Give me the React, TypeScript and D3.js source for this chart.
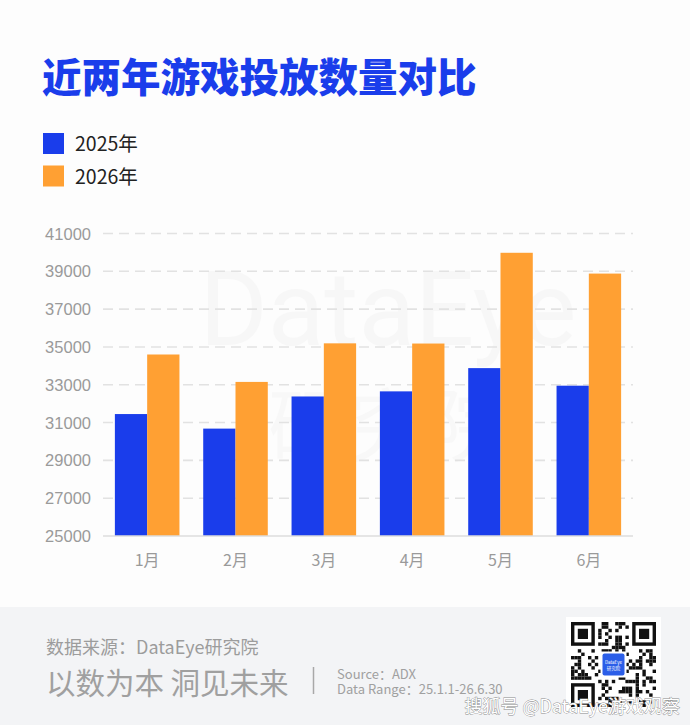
import React, { useEffect, useRef } from 'react';
import * as d3 from 'd3';

const months = ['1月', '2月', '3月', '4月', '5月', '6月'];
const series = ['2025年', '2026年'];
const values2025 = [31450, 30680, 32380, 32650, 33880, 32950];
const values2026 = [34600, 33150, 35190, 35180, 39980, 38880];
const yTicks = [25000, 27000, 29000, 31000, 33000, 35000, 37000, 39000, 41000];
const colors = ['#1a3deb', '#ffa033'];

const W = 690;
const H = 725;
const font = '"Noto Sans CJK SC", "Noto Sans", sans-serif';

const App: React.FC = () => {
  const svgRef = useRef<SVGSVGElement>(null);

  useEffect(() => {
    if (!svgRef.current) return;
    const svg = d3.select(svgRef.current);
    svg.selectAll('*').remove();

    // background
    svg.append('rect').attr('width', W).attr('height', H).attr('fill', '#fdfdfd');

    // faint watermark
    svg.append('text')
      .attr('x', 388).attr('y', 345)
      .attr('text-anchor', 'middle')
      .attr('font-family', 'Roboto, sans-serif')
      .attr('font-size', 104)
      .attr('fill', '#000').attr('opacity', 0.02)
      .text('DataEye');
    svg.append('text')
      .attr('x', 388).attr('y', 455)
      .attr('text-anchor', 'middle')
      .attr('font-family', font)
      .attr('font-size', 80)
      .attr('fill', '#000').attr('opacity', 0.015)
      .text('研究院');

    // title
    svg.append('text')
      .attr('x', 42).attr('y', 92)
      .attr('font-family', font)
      .attr('font-weight', 900)
      .attr('font-size', 39.5)
      .attr('fill', '#1a3deb')
      .text('近两年游戏投放数量对比');

    // legend
    const legend = svg.append('g');
    series.forEach((s, i) => {
      const y = 133 + i * 32.5;
      legend.append('rect')
        .attr('x', 43).attr('y', y).attr('width', 21).attr('height', 21)
        .attr('fill', colors[i]);
      legend.append('text')
        .attr('x', 75).attr('y', y + 18)
        .attr('font-family', font)
        .attr('font-size', 19.5)
        .attr('fill', '#222')
        .text(s);
    });

    // chart
    const x0 = d3.scaleBand<string>()
      .domain(months)
      .range([103, 633])
      .paddingInner(0.269)
      .paddingOuter(0.1345);
    const x1 = d3.scaleBand<string>()
      .domain(series)
      .range([0, x0.bandwidth()]);
    const y = d3.scaleLinear().domain([25000, 41000]).range([536, 233.5]);

    const grid = svg.append('g');
    yTicks.forEach(t => {
      if (t !== 25000) {
        grid.append('line')
          .attr('x1', 103).attr('x2', 633)
          .attr('y1', y(t)).attr('y2', y(t))
          .attr('stroke', '#e2e2e2')
          .attr('stroke-width', 1.6)
          .attr('stroke-dasharray', '10,6');
      }
      grid.append('text')
        .attr('x', 91).attr('y', y(t) + 6)
        .attr('text-anchor', 'end')
        .attr('font-family', '"Liberation Sans", Arial, sans-serif')
        .attr('font-size', 16.5)
        .attr('fill', '#9a9a9a')
        .text(t);
    });

    const data = months.map((m, i) => ({ month: m, vals: [values2025[i], values2026[i]] }));
    const groups = svg.append('g')
      .selectAll('g')
      .data(data)
      .join('g')
      .attr('transform', d => `translate(${x0(d.month)},0)`);
    groups.selectAll('rect')
      .data(d => d.vals.map((v, i) => ({ key: series[i], v, i })))
      .join('rect')
      .attr('x', d => x1(d.key) as number)
      .attr('width', x1.bandwidth())
      .attr('y', d => y(d.v))
      .attr('height', d => y(25000) - y(d.v))
      .attr('fill', d => colors[d.i]);

    // baseline
    svg.append('line')
      .attr('x1', 103).attr('x2', 633)
      .attr('y1', y(25000)).attr('y2', y(25000))
      .attr('stroke', '#dcdcdc').attr('stroke-width', 1.5);

    // x labels
    months.forEach(m => {
      svg.append('text')
        .attr('x', (x0(m) as number) + x0.bandwidth() / 2)
        .attr('y', 566)
        .attr('text-anchor', 'middle')
        .attr('font-family', font)
        .attr('font-size', 16)
        .attr('fill', '#9a9a9a')
        .text(m);
    });

    // footer
    svg.append('rect').attr('x', 0).attr('y', 607).attr('width', W).attr('height', H - 607)
      .attr('fill', '#f3f4f6');
    svg.append('text')
      .attr('x', 46).attr('y', 654)
      .attr('font-family', font).attr('font-size', 18)
      .attr('fill', '#9c9c9c')
      .text('数据来源：DataEye研究院');
    svg.append('text')
      .attr('x', 46).attr('y', 694)
      .attr('font-family', font).attr('font-size', 29.5)
      .attr('fill', '#a0a0a0')
      .text('以数为本 洞见未来');
    svg.append('line')
      .attr('x1', 313.5).attr('x2', 313.5).attr('y1', 667).attr('y2', 694)
      .attr('stroke', '#a8a8a8').attr('stroke-width', 1.5);
    svg.append('text')
      .attr('x', 337).attr('y', 679)
      .attr('font-family', font).attr('font-size', 13)
      .attr('fill', '#a0a0a0')
      .text('Source：ADX');
    svg.append('text')
      .attr('x', 337).attr('y', 694)
      .attr('font-family', font).attr('font-size', 13)
      .attr('fill', '#a0a0a0')
      .text('Data Range：25.1.1-26.6.30');

    // QR code (decorative)
    const qx = 566, qy = 617, qs = 95, n = 25, cell = 3.4;
    const qr = svg.append('g');
    qr.append('rect').attr('x', qx).attr('y', qy).attr('width', qs).attr('height', qs).attr('fill', '#fff');
    const ox = qx + (qs - n * cell) / 2, oy = qy + (qs - n * cell) / 2;
    const inFinder = (r: number, c: number) =>
      (r < 8 && c < 8) || (r < 8 && c >= n - 8) || (r >= n - 8 && c < 8);
    for (let r = 0; r < n; r++) {
      for (let c = 0; c < n; c++) {
        if (inFinder(r, c)) continue;
        const h = ((r * 31 + c * 17 + r * c * 7) ^ (r * 5 + c * 3)) % 5;
        if (h < 2) {
          qr.append('rect')
            .attr('x', ox + c * cell).attr('y', oy + r * cell)
            .attr('width', cell).attr('height', cell).attr('fill', '#111');
        }
      }
    }
    [[0, 0], [0, n - 7], [n - 7, 0]].forEach(([r, c]) => {
      qr.append('rect').attr('x', ox + c * cell).attr('y', oy + r * cell)
        .attr('width', 7 * cell).attr('height', 7 * cell).attr('fill', '#111');
      qr.append('rect').attr('x', ox + (c + 1) * cell).attr('y', oy + (r + 1) * cell)
        .attr('width', 5 * cell).attr('height', 5 * cell).attr('fill', '#fff');
      qr.append('rect').attr('x', ox + (c + 2) * cell).attr('y', oy + (r + 2) * cell)
        .attr('width', 3 * cell).attr('height', 3 * cell).attr('fill', '#111');
    });
    qr.append('rect').attr('x', qx + qs / 2 - 13).attr('y', qy + qs / 2 - 13)
      .attr('width', 26).attr('height', 26).attr('fill', '#fff');
    qr.append('rect').attr('x', qx + qs / 2 - 11).attr('y', qy + qs / 2 - 11)
      .attr('width', 22).attr('height', 22).attr('rx', 2).attr('fill', '#2b5ee8');
    qr.append('text').attr('x', qx + qs / 2).attr('y', qy + qs / 2 - 1)
      .attr('text-anchor', 'middle').attr('font-family', font).attr('font-size', 4.5)
      .attr('fill', '#fff').text('DataEye');
    qr.append('text').attr('x', qx + qs / 2).attr('y', qy + qs / 2 + 5)
      .attr('text-anchor', 'middle').attr('font-family', font).attr('font-size', 4.5)
      .attr('fill', '#fff').text('研究院');

    // platform watermark
    svg.append('text')
      .attr('x', 680).attr('y', 713)
      .attr('text-anchor', 'end')
      .attr('font-family', font).attr('font-size', 18)
      .attr('fill', '#fff')
      .attr('stroke', '#8a8a8a').attr('stroke-width', 0.8)
      .attr('paint-order', 'stroke')
      .text('搜狐号 @DataEye游戏观察');
  }, []);

  return (
    <>
      <style>{'body{margin:0}'}</style>
      <svg ref={svgRef} width={W} height={H} style={{ display: 'block' }} />
    </>
  );
};

export default App;
